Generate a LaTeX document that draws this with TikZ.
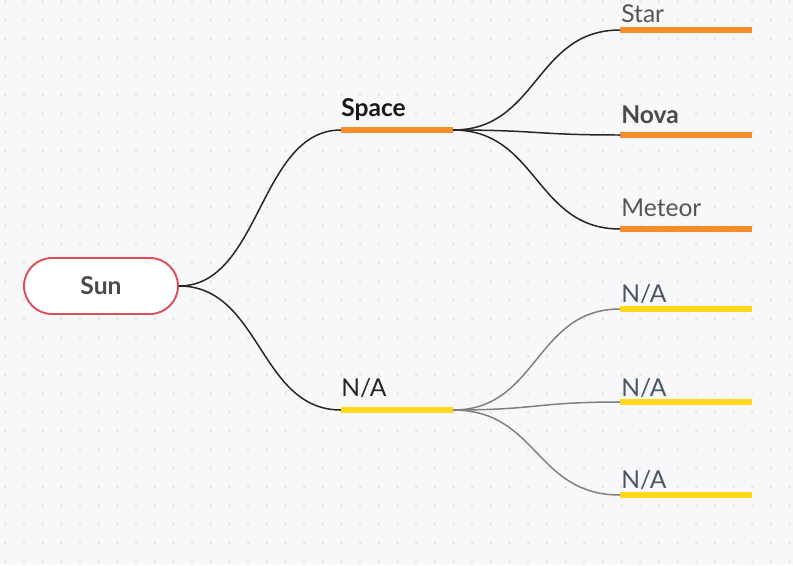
\documentclass[tikz,border=0pt]{standalone}
\usepackage{fontspec}
\setmainfont{Lato}
\usetikzlibrary{positioning}

\definecolor{bgcol}{HTML}{F8F8FB}
\definecolor{dotcol}{HTML}{DCDCE2}
\definecolor{sunred}{HTML}{DC4E5A}
\definecolor{sungray}{HTML}{4A4A4A}
\definecolor{barorange}{HTML}{F68D2B}
\definecolor{baryellow}{HTML}{FFD81C}
\definecolor{leafgray}{HTML}{555555}
\definecolor{leafslate}{HTML}{4A5568}
\definecolor{linkgray}{HTML}{808080}

\begin{document}
\begin{tikzpicture}[x=0.02cm, y=-0.02cm,
        % Rounded box for the central topic
        root/.style={draw=sunred, line width=1.1pt, fill=white,
        rounded corners=0.56cm, minimum width=3.08cm, minimum height=1.12cm,
        font=\bfseries\fontsize{14}{17}\selectfont, text=sungray},
        % Coloured underline bars for the branches
        bar/.style={inner sep=0pt, minimum height=0.12cm, outer sep=0pt},
        midbar/.style={bar, minimum width=2.24cm},
        leafbar/.style={bar, minimum width=2.64cm},
        % Text sitting on top of a bar
        lbl/.style={inner sep=0pt, anchor=base west, font=\fontsize{14}{17}\selectfont},
        % Curved connectors
        link/.style={line width=0.85pt, black!85},
        softlink/.style={line width=0.85pt, linkgray}
    ]

    % --- Background and dot grid ---
    \fill[bgcol] (0,0) rectangle (793,565);
    \useasboundingbox (0,0) rectangle (793,565);
    \foreach \i in {0,...,42} {
        \foreach \j in {0,...,30} {
            \fill[dotcol] (5.33+18.67*\i, 1.67+18.67*\j) circle (0.022cm);
        }
    }

    % --- Central topic ---
    \node[root] (sun) at (101,286) {Sun};

    % --- Middle level ---
    \node[midbar, fill=barorange] (space) at (397,130) {};
    \node[lbl, font=\bfseries\fontsize{14}{17}\selectfont, text=black!90] (space_lbl) at (341,116) {Space};

    \node[midbar, fill=baryellow] (na) at (397,410) {};
    \node[lbl, text=black!85] (na_lbl) at (341,396) {N/A};

    % --- Leaves of Space ---
    \node[leafbar, fill=barorange] (star) at (686,30) {};
    \node[lbl, text=leafgray] (star_lbl) at (621,22.5) {Star};

    \node[leafbar, fill=barorange] (nova) at (686,135) {};
    \node[lbl, font=\bfseries\fontsize{14}{17}\selectfont, text=sungray] (nova_lbl) at (621,123) {Nova};

    \node[leafbar, fill=barorange] (meteor) at (686,229) {};
    \node[lbl, text=leafgray] (meteor_lbl) at (621,216) {Meteor};

    % --- Leaves of N/A ---
    \node[leafbar, fill=baryellow] (na_a) at (686,309) {};
    \node[lbl, text=leafslate] (na_a_lbl) at (621,302) {N/A};

    \node[leafbar, fill=baryellow] (na_b) at (686,402) {};
    \node[lbl, text=leafslate] (na_b_lbl) at (621,396) {N/A};

    \node[leafbar, fill=baryellow] (na_c) at (686,495) {};
    \node[lbl, text=leafslate] (na_c_lbl) at (621,488.5) {N/A};

    % --- Connectors ---
    \draw[link] (sun.east) .. controls +(82,0) and +(-82,0) .. (space.west);
    \draw[link] (sun.east) .. controls +(82,0) and +(-82,0) .. (na.west);

    \draw[link] (space.east) .. controls +(85,0) and +(-85,0) .. (star.west);
    \draw[link] (space.east) .. controls +(85,0) and +(-85,0) .. (nova.west);
    \draw[link] (space.east) .. controls +(85,0) and +(-85,0) .. (meteor.west);

    \draw[softlink] (na.east) .. controls +(85,0) and +(-85,0) .. (na_a.west);
    \draw[softlink] (na.east) .. controls +(85,0) and +(-85,0) .. (na_b.west);
    \draw[softlink] (na.east) .. controls +(85,0) and +(-85,0) .. (na_c.west);

\end{tikzpicture}
\end{document}
